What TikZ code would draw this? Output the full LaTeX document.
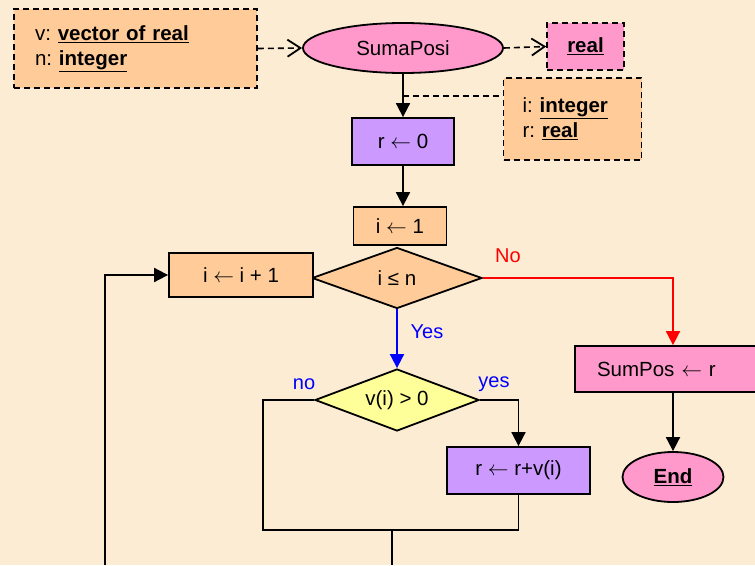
\documentclass[tikz,border=0pt]{standalone}
\usepackage{fontspec}
\setmainfont{Liberation Sans}
\usetikzlibrary{shapes.geometric,arrows.meta}
\frenchspacing
\definecolor{paper}{RGB}{252,236,212}
\definecolor{peach}{RGB}{255,204,153}
\definecolor{rose}{RGB}{255,153,204}
\definecolor{lilac}{RGB}{204,153,255}
\definecolor{lemon}{RGB}{255,255,153}
\tikzset{
  box/.style={draw, line width=1.8pt, inner sep=0pt},
  decl/.style={draw, line width=1.6pt, dash pattern=on 6pt off 4pt},
  flow/.style={line width=1.8pt, -{Triangle[length=14pt,width=14pt]}},
  pass/.style={line width=1.6pt, dash pattern=on 6pt off 4pt, -{Straight Barb[length=13pt,width=17pt,line width=1.8pt]}},
  cond/.style={box, diamond, fill=peach, minimum width=170pt, minimum height=61pt, aspect=2.8},
  tag/.style={font=\fontsize{20}{24}\selectfont}
}
\newcommand{\kw}[1]{\underline{\textbf{#1}}}
\begin{document}
\begin{tikzpicture}[x=1pt,y=-1pt,font=\fontsize{20.5}{25}\selectfont]
\fill[paper] (0,0) rectangle (755,565);
\useasboundingbox (0,0) rectangle (755,565);
% header
\node[decl, fill=peach, text width=201pt, inner xsep=21pt, minimum height=79pt, align=left] (params) at (135.5,48.5)
  {v: \kw{vector of real}\\n: \kw{integer}};
\node[box, ellipse, fill=rose, minimum width=200pt, minimum height=50pt] (suma) at (403,48) {SumaPosi};
\node[decl, fill=rose, minimum width=77pt, minimum height=47pt] (result) at (585.5,46.5) {\kw{real}};
\node[decl, fill=peach, text width=100pt, inner xsep=19pt, minimum height=82pt, align=left] (locals) at (572.5,119)
  {i: \kw{integer}\\r: \kw{real}};
\draw[pass] (params.east) -- (suma.west);
\draw[pass] (suma.east) -- (result.west);
% body
\node[box, fill=lilac, minimum width=102pt, minimum height=47pt] (rzero) at (403,141.5) {r \ensuremath{\leftarrow} 0};
\node[box, fill=peach, minimum width=93pt, minimum height=38pt] (ione) at (400,226) {i \ensuremath{\leftarrow} 1};
\node[cond] (iter) at (397,278) {i ≤ n};
\node[box, fill=peach, minimum width=144pt, minimum height=44pt] (inc) at (241,275) {i \ensuremath{\leftarrow} i + 1};
\node[cond, fill=lemon, minimum width=164pt, minimum height=62pt] (test) at (397,400) {v(i) > 0};
\node[box, fill=lilac, minimum width=143pt, minimum height=47pt] (rsum) at (518.5,470.5) {r \ensuremath{\leftarrow} r+v(i)};
\node[box, fill=rose, text width=152pt, inner xsep=22pt, minimum height=46pt, align=left] (sumpos) at (673,369) {SumPos \ensuremath{\leftarrow} r};
\node[box, ellipse, fill=rose, minimum width=101pt, minimum height=50pt] (fin) at (673,477) {\kw{End}};
\coordinate (tie) at (403,96);
\coordinate (loopin) at (105,565);
\coordinate (elbow) at (263,530);
\coordinate (merge) at (392,530);
\coordinate (mergeout) at (392,565);
\draw[flow] (suma.south) -- (rzero.north);
\draw[decl] (tie) -- (tie -| locals.west);
\draw[flow] (rzero.south) -- (rzero.south |- ione.north);
\draw[flow] (loopin) |- (inc.west);
\draw[flow, red] (iter.east) -| (sumpos.north);
\node[tag, red] (nolbl) at (508,256) {No};
\draw[flow, blue] (iter.south) -- (test.north);
\node[tag, blue] (yeslbl) at (427,332) {Yes};
\node[tag, blue] (nosm) at (304,384) {no};
\node[tag, blue] (yessm) at (494,384) {yes};
\draw[flow] (test.east) -| (rsum.north);
\draw[line width=1.8pt] (rsum.south) |- (elbow) |- (test.west);
\draw[line width=1.8pt] (merge) -- (mergeout);
\draw[flow] (sumpos.south) -- (fin.north);
\end{tikzpicture}
\end{document}
